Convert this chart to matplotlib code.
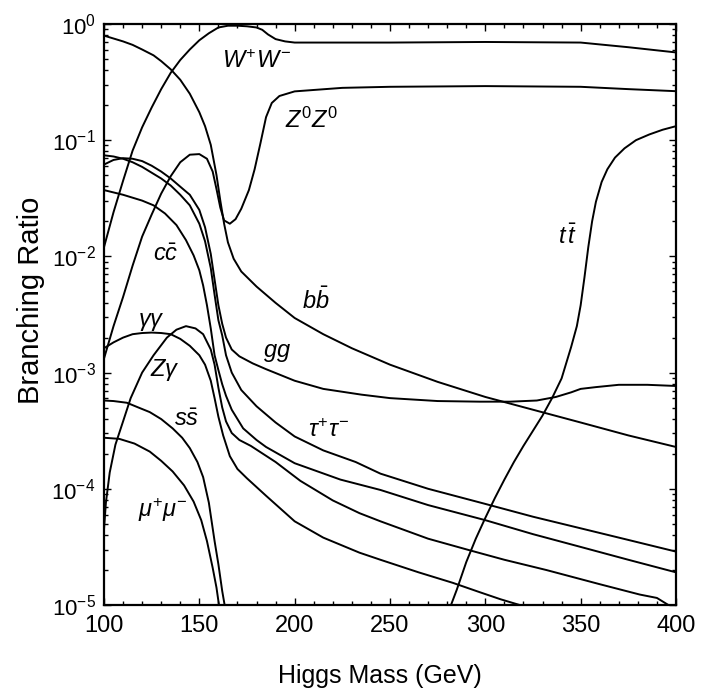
import matplotlib
matplotlib.use("Agg")
import matplotlib.pyplot as plt
from matplotlib.ticker import MultipleLocator, LogLocator, NullFormatter

plt.rcParams['font.family'] = ['Liberation Sans', 'DejaVu Sans']
plt.rcParams['mathtext.fontset'] = 'custom'
plt.rcParams['mathtext.it'] = 'Liberation Sans:italic'
plt.rcParams['mathtext.rm'] = 'Liberation Sans'
plt.rcParams['mathtext.bf'] = 'Liberation Sans:bold'

# Higgs branching ratios (mass in GeV)
m_bb = [100, 110, 115, 120, 126, 130, 135, 140, 145, 150, 153, 156, 159, 161, 163, 165, 168, 172,
        180, 190, 200, 215, 230, 250, 275, 300, 325, 350, 375, 400]
br_bb = [0.794, 0.708, 0.661, 0.603, 0.537, 0.479, 0.407, 0.331, 0.251, 0.174, 0.132, 0.0912,
         0.0501, 0.0302, 0.0191, 0.0132, 9.55e-3, 7.41e-3, 5.50e-3, 3.98e-3, 2.95e-3, 2.14e-3,
         1.62e-3, 1.17e-3, 8.32e-4, 6.17e-4, 4.79e-4, 3.72e-4, 2.88e-4, 2.29e-4]

m_ww = [100, 105, 110, 115, 120, 125, 130, 135, 140, 145, 150, 155, 160, 165, 170, 175, 180, 183,
        186, 190, 195, 200, 250, 300, 350, 375, 400]
br_ww = [0.0120, 0.0240, 0.0447, 0.0813, 0.129, 0.191, 0.275, 0.380, 0.490, 0.603, 0.724, 0.832,
         0.933, 0.966, 0.966, 0.955, 0.933, 0.891, 0.813, 0.741, 0.708, 0.692, 0.692, 0.700,
         0.692, 0.631, 0.569]

m_zz = [100, 105, 110, 115, 120, 125, 130, 135, 140, 145, 150, 154, 157, 159, 161, 163, 166, 169,
        172, 176, 179, 182, 185, 188, 192, 200, 225, 250, 300, 350, 375, 400]
br_zz = [1.32e-3, 2.51e-3, 4.47e-3, 8.32e-3, 0.0148, 0.0229, 0.0347, 0.0490, 0.0646, 0.0750,
         0.0759, 0.0692, 0.0537, 0.0380, 0.0263, 0.0204, 0.0191, 0.0209, 0.0257, 0.0372, 0.0562,
         0.0933, 0.158, 0.209, 0.240, 0.263, 0.282, 0.288, 0.292, 0.288, 0.275, 0.264]

m_tt = [280, 282, 285, 290, 295, 300, 305, 310, 315, 320, 325, 330, 335, 340, 345, 348, 350, 352,
        354, 356, 358, 361, 364, 368, 373, 379, 386, 393, 400]
br_tt = [8.0e-6, 1.0e-5, 1.35e-5, 2.34e-5, 3.72e-5, 5.62e-5, 8.32e-5, 1.20e-4, 1.70e-4, 2.34e-4,
         3.16e-4, 4.27e-4, 6.03e-4, 8.91e-4, 1.66e-3, 2.51e-3, 3.80e-3, 6.61e-3, 0.0120, 0.0200,
         0.0295, 0.0437, 0.0562, 0.0708, 0.0851, 0.100, 0.112, 0.123, 0.132]

m_gg = [100, 105, 110, 115, 120, 125, 130, 135, 140, 145, 150, 153, 156, 158, 160, 162, 164, 167,
        171, 178, 185, 200, 215, 235, 250, 275, 297, 313, 327, 337, 345, 350, 358, 370, 385, 400]
br_gg = [0.0617, 0.0676, 0.0700, 0.0692, 0.0661, 0.0603, 0.0537, 0.0468, 0.0398, 0.0339, 0.0251,
         0.0178, 0.0105, 6.31e-3, 3.80e-3, 2.63e-3, 2.00e-3, 1.58e-3, 1.38e-3, 1.20e-3, 1.07e-3,
         8.51e-4, 7.24e-4, 6.46e-4, 6.03e-4, 5.69e-4, 5.62e-4, 5.62e-4, 5.75e-4, 6.17e-4, 6.76e-4,
         7.24e-4, 7.50e-4, 7.85e-4, 7.85e-4, 7.67e-4]

m_tau = [100, 105, 110, 115, 120, 125, 130, 135, 140, 145, 150, 153, 156, 158, 160, 162, 164, 167,
         172, 180, 190, 200, 215, 232, 245, 270, 300, 325, 350, 375, 400]
br_tau = [0.0741, 0.0724, 0.0692, 0.0646, 0.0589, 0.0525, 0.0468, 0.0407, 0.0339, 0.0275, 0.0191,
          0.0135, 7.94e-3, 4.68e-3, 2.82e-3, 2.09e-3, 1.41e-3, 1.00e-3, 7.08e-4, 5.13e-4, 3.72e-4,
          2.82e-4, 2.14e-4, 1.70e-4, 1.35e-4, 1.00e-4, 7.41e-5, 5.75e-5, 4.57e-5, 3.63e-5, 2.88e-5]

m_cc = [100, 110, 120, 126, 132, 138, 143, 147, 150, 152, 154, 156, 158, 160, 162, 164, 167, 173,
        180, 185, 200, 224, 245, 270, 300, 325, 350, 375, 400]
br_cc = [0.0372, 0.0339, 0.0302, 0.0275, 0.0234, 0.0186, 0.0138, 0.0102, 7.59e-3, 5.62e-3,
         3.80e-3, 2.40e-3, 1.41e-3, 1.05e-3, 7.94e-4, 6.31e-4, 4.79e-4, 3.31e-4, 2.63e-4, 2.29e-4,
         1.66e-4, 1.20e-4, 9.77e-5, 7.24e-5, 5.37e-5, 4.07e-5, 3.16e-5, 2.45e-5, 1.91e-5]

m_aa = [100, 105, 110, 115, 120, 125, 130, 135, 140, 145, 150, 153, 156, 158, 160, 162.5, 166, 170,
        175, 185, 200, 215, 234, 245, 265, 283, 297, 308, 318, 322]
br_aa = [1.62e-3, 1.82e-3, 2.00e-3, 2.14e-3, 2.19e-3, 2.21e-3, 2.19e-3, 2.14e-3, 1.95e-3, 1.70e-3,
         1.41e-3, 1.17e-3, 8.51e-4, 6.03e-4, 4.17e-4, 2.88e-4, 1.91e-4, 1.48e-4, 1.23e-4, 8.71e-5,
         5.25e-5, 3.80e-5, 2.82e-5, 2.45e-5, 1.91e-5, 1.55e-5, 1.29e-5, 1.12e-5, 1.0e-5, 9.5e-6]

m_za = [100, 101, 103, 106, 110, 114, 120, 126, 133, 138, 143, 148, 152, 156, 158, 160, 162, 164,
        167, 171, 177, 190, 203, 220, 234, 245, 270, 292, 310, 332, 360, 381, 390, 396, 400]
br_za = [4.47e-5, 7.59e-5, 1.38e-4, 2.40e-4, 3.80e-4, 6.03e-4, 1.00e-3, 1.41e-3, 2.00e-3, 2.34e-3,
         2.51e-3, 2.40e-3, 2.14e-3, 1.58e-3, 1.17e-3, 7.41e-4, 5.01e-4, 3.80e-4, 3.02e-4, 2.63e-4,
         2.34e-4, 1.70e-4, 1.17e-4, 7.94e-5, 6.17e-5, 5.25e-5, 3.72e-5, 2.95e-5, 2.45e-5, 2.00e-5,
         1.51e-5, 1.23e-5, 1.15e-5, 1.0e-5, 9.6e-6]

m_ss = [100, 105, 112, 118, 124, 130, 136, 141, 145, 149, 152, 155, 158, 160, 162, 163.5]
br_ss = [5.75e-4, 5.69e-4, 5.50e-4, 5.01e-4, 4.57e-4, 3.98e-4, 3.31e-4, 2.75e-4, 2.24e-4, 1.70e-4,
         1.26e-4, 7.59e-5, 3.55e-5, 2.24e-5, 1.32e-5, 9.5e-6]

m_mumu = [100, 108, 116, 124, 130, 136, 142, 147, 151, 154, 157, 159, 160.5]
br_mumu = [2.75e-4, 2.69e-4, 2.45e-4, 2.09e-4, 1.74e-4, 1.41e-4, 1.07e-4, 7.76e-5, 5.37e-5,
           3.55e-5, 2.09e-5, 1.41e-5, 9.5e-6]

curves = [(m_bb, br_bb), (m_ww, br_ww), (m_zz, br_zz), (m_tt, br_tt), (m_gg, br_gg),
          (m_tau, br_tau), (m_cc, br_cc), (m_aa, br_aa), (m_za, br_za), (m_ss, br_ss),
          (m_mumu, br_mumu)]

fig = plt.figure(figsize=(7.06, 6.97), dpi=100)
ax = fig.add_axes([0.1473, 0.132, 0.8102, 0.8336])

for m, br in curves:
    ax.plot(m, br, color="black", lw=1.4)

ax.set_yscale("log")
ax.set_xlim(100, 400)
ax.set_ylim(1e-5, 1)

ax.xaxis.set_major_locator(MultipleLocator(50))
ax.xaxis.set_minor_locator(MultipleLocator(10))
ax.yaxis.set_major_locator(LogLocator(base=10))
ax.yaxis.set_minor_locator(LogLocator(base=10, subs=range(2, 10)))
ax.yaxis.set_minor_formatter(NullFormatter())
ax.tick_params(which="both", direction="in", top=True, right=True, width=1)
ax.tick_params(which="major", length=5)
ax.tick_params(which="minor", length=3)
ax.tick_params(axis="x", labelsize=17, pad=7)
ax.tick_params(axis="y", labelsize=16, pad=6)
for sp in ax.spines.values():
    sp.set_linewidth(1.6)

ax.set_xlabel("Higgs Mass (GeV)", fontsize=18)
ax.xaxis.set_label_coords(0.4825, -0.102)
ax.set_ylabel("Branching Ratio", fontsize=21)
ax.yaxis.set_label_coords(-0.104, 0.525)

lab = dict(fontsize=17, ha="center", va="center")
ax.text(180, 0.479, r"$W^{+}W^{-}$", **lab)
ax.text(209, 0.148, r"$Z^{0}Z^{0}$", **lab)
ax.text(343, 0.0148, r"$t\,\bar{t}$", **lab)
ax.text(132.5, 0.0102, r"$c\bar{c}$", **lab)
ax.text(211, 4.17e-3, r"$b\bar{b}$", **lab)
ax.text(125, 2.75e-3, r"$\gamma\gamma$", **lab)
ax.text(132, 1.05e-3, r"$Z\gamma$", **lab)
ax.text(190.5, 1.48e-3, r"$gg$", **lab)
ax.text(217.5, 3.16e-4, r"$\tau^{+}\tau^{-}$", **lab)
ax.text(143.5, 3.89e-4, r"$s\bar{s}$", **lab)
ax.text(131, 6.6e-5, r"$\mu^{+}\mu^{-}$", **lab)

fig.savefig("out.png", dpi=100)
